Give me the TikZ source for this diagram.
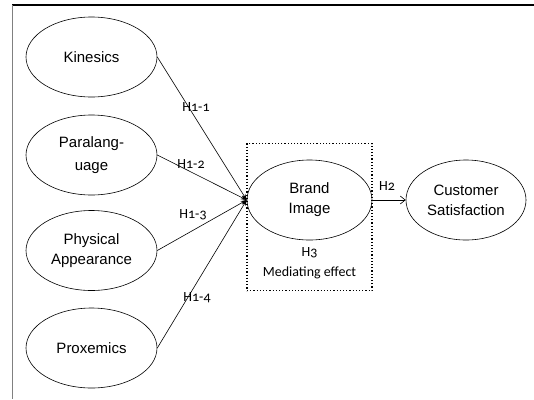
\documentclass[tikz,border=0pt]{standalone}
\usepackage{fontspec}
\setmainfont{Liberation Sans}
\newfontfamily\labfont[Numbers=OldStyle]{Carlito}
\usetikzlibrary{shapes.geometric,arrows.meta}
\begin{document}
\begin{tikzpicture}[x=1pt,y=-1pt,
  ell/.style={draw,ellipse,line width=0.6pt,minimum width=131pt,minimum height=80pt,inner sep=0pt,align=center,font=\fontsize{15}{20}\selectfont},
  lab/.style={font=\labfont\fontsize{14}{16}\selectfont,inner sep=0pt},
  link/.style={line width=0.6pt,-{Stealth[length=6pt,width=4pt]}}]
\useasboundingbox (0,0) rectangle (534,399);
\fill[white] (0,0) rectangle (534,399);
\draw[line width=1.3pt] (12,5) -- (534,5);
\draw[gray,line width=1pt] (12,5) -- (12,399);
\node[ell] (kin) at (91.5,57) {Kinesics};
\node[ell,font=\fontsize{15}{23}\selectfont] (par) at (91.5,155) {Paralang-\\uage};
\node[ell] (phy) at (91.5,250.5) {Physical\\Appearance};
\node[ell] (pro) at (91.5,348) {Proxemics};
\node[ell,minimum width=125pt] (bra) at (309.5,200) {Brand\\Image};
\node[ell,minimum width=120pt] (cus) at (466,200) {Customer\\Satisfaction};
\node[draw,dotted,line width=1.2pt,minimum width=125pt,minimum height=147pt,inner sep=0pt] (box) at (309.5,217) {};
\draw[link] (kin.east) -- (bra.west);
\draw[link] (par.east) -- (bra.west);
\draw[link] (phy.east) -- (bra.west);
\draw[link] (pro.east) -- (bra.west);
\draw[line width=0.6pt,-{Straight Barb[length=5pt,width=8pt]}] (bra.east) -- (cus.west);
\node[lab] (h11) at (196,107) {H1-1};
\node[lab] (h12) at (191,164) {H1-2};
\node[lab] (h13) at (193,215) {H1-3};
\node[lab] (h14) at (197,298) {H1-4};
\node[lab] (h2) at (387,186) {H2};
\node[lab] (h3) at (309.5,253) {H3};
\node[lab] (med) at (309.5,273) {Mediating effect};
\end{tikzpicture}
\end{document}
